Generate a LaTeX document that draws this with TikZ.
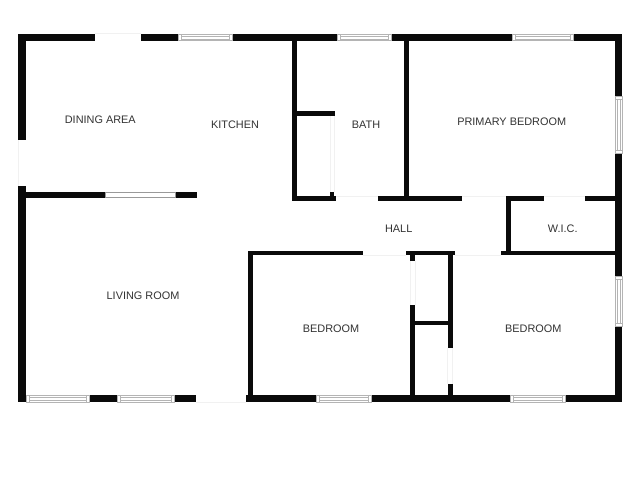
\documentclass[tikz,border=0pt]{standalone}
\usepackage{fontspec}
\setmainfont{Liberation Sans}
\definecolor{wallc}{HTML}{0A0A0A}
\definecolor{winc}{HTML}{B4B4B4}
\definecolor{doorc}{HTML}{F1F1F1}
\definecolor{labelc}{HTML}{333333}
\tikzset{
  wall/.style={fill=wallc,draw=none},
  winframe/.style={fill=white,draw=winc,line width=0.6pt},
  winline/.style={draw=winc,line width=0.6pt},
  doorgap/.style={draw=doorc,line width=0.5pt},
  roomlabel/.style={text=labelc,font=\fontsize{10.9}{12}\selectfont,inner sep=0pt,anchor=center}
}
\newcommand{\wl}[4]{\fill[wall] (#1,#3) rectangle (#2,#4);}
% horizontal window: x1 x2 y1 y2
\newcommand{\hwin}[4]{%
  \draw[winframe] (#1,#3) rectangle (#2,#4);
  \draw[winline] ({#1+3},#3) -- ({#1+3},#4) ({#2-3},#3) -- ({#2-3},#4);
  \draw[winline] ({#1+3},{(#3+#4)/2-1.2}) -- ({#2-3},{(#3+#4)/2-1.2})
                 ({#1+3},{(#3+#4)/2+1.8}) -- ({#2-3},{(#3+#4)/2+1.8});}
% vertical window: x1 x2 y1 y2
\newcommand{\vwin}[4]{%
  \draw[winframe] (#1,#3) rectangle (#2,#4);
  \draw[winline] (#1,{#3+3}) -- (#2,{#3+3}) (#1,{#4-3}) -- (#2,{#4-3});
  \draw[winline] ({(#1+#2)/2-1.2},{#3+3}) -- ({(#1+#2)/2-1.2},{#4-3})
                 ({(#1+#2)/2+1.8},{#3+3}) -- ({(#1+#2)/2+1.8},{#4-3});}
\begin{document}
\begin{tikzpicture}[x=1pt,y=-1pt]
\useasboundingbox (0,0) rectangle (640,480);
\fill[white] (0,0) rectangle (640,480);
% faint door lines
\draw[doorgap] (95,33.5) -- (141,33.5) (18,140) -- (18,186) (196,402) -- (246,402);
\draw[doorgap] (330,116) -- (330,192) (334.5,116) -- (334.5,192);
\draw[doorgap] (336,196) -- (378,196) (462,196) -- (506,196) (544,196) -- (585,196);
\draw[doorgap] (363,255) -- (406,255) (455,255) -- (501,255);
\draw[doorgap] (410,261) -- (410,305) (415.3,261) -- (415.3,305);
\draw[doorgap] (447.7,348) -- (447.7,384) (452.7,348) -- (452.7,384);
% outer walls: top
\wl{18}{95}{33.5}{40.5}
\wl{141}{178}{33.5}{40.5}
\wl{232}{337}{33.5}{40.5}
\wl{391.5}{512}{33.5}{40.5}
\wl{573}{622}{33.5}{40.5}
% left
\wl{18}{25.5}{33.5}{140}
\wl{18}{25.5}{186}{402}
% right
\wl{615}{622}{33.5}{96}
\wl{615}{622}{153.5}{276.5}
\wl{615}{622}{326.5}{402}
% bottom
\wl{18}{26}{395}{402}
\wl{89}{117}{395}{402}
\wl{174.7}{196}{395}{402}
\wl{245.7}{316}{395}{402}
\wl{371}{510}{395}{402}
\wl{565}{622}{395}{402}
% dining / living wall
\wl{25.5}{105}{192.3}{197.7}
\wl{175}{197}{192.3}{197.7}
\draw[fill=white,draw=gray!80,line width=0.6pt] (105,192.5) rectangle (175,197.5);
% bath walls
\wl{292}{297.3}{40}{200.7}
\wl{292}{336}{195.7}{200.7}
\wl{297}{334.7}{111.3}{116.3}
\wl{330}{334.3}{191.7}{196}
\wl{404}{409}{40}{196}
\wl{378}{462.3}{195.7}{200.7}
% walk-in closet
\wl{505.7}{544.3}{195.7}{200.7}
\wl{585.3}{615}{195.7}{200.7}
\wl{506}{511}{196}{253}
\wl{501.3}{615}{250.7}{255.3}
% bedroom walls
\wl{247.7}{252.7}{250.7}{395}
\wl{247.7}{362.7}{250.7}{255.3}
\wl{406}{455.3}{250.7}{255.3}
\wl{410}{415.3}{255}{260.7}
\wl{410}{415.3}{305}{395}
\wl{447.7}{452.7}{255}{347.7}
\wl{447.7}{452.7}{384}{395}
\wl{415}{448}{320.7}{325.3}
% windows
\hwin{178}{232}{34}{40.5}
\hwin{337}{391.5}{34}{40.5}
\hwin{512}{573}{34}{40.5}
\hwin{26}{89}{395.5}{402}
\hwin{117}{174.7}{395.5}{402}
\hwin{316}{371}{395.5}{402}
\hwin{510}{565}{395.5}{402}
\vwin{615.5}{622}{96}{153.5}
\vwin{615.5}{622}{276.5}{326.5}
% labels
\node[roomlabel] (dining) at (100.3,120) {DINING AREA};
\node[roomlabel] (kitchen) at (235,125) {KITCHEN};
\node[roomlabel] (bath) at (366,125) {BATH};
\node[roomlabel] (primary) at (511.7,121.7) {PRIMARY BEDROOM};
\node[roomlabel] (living) at (143,296) {LIVING ROOM};
\node[roomlabel] (bedl) at (331,329) {BEDROOM};
\node[roomlabel] (bedr) at (533.3,329) {BEDROOM};
\node[roomlabel] (hall) at (398.7,229) {HALL};
\node[roomlabel] (wic) at (562.7,229) {W.I.C.};
\end{tikzpicture}
\end{document}
